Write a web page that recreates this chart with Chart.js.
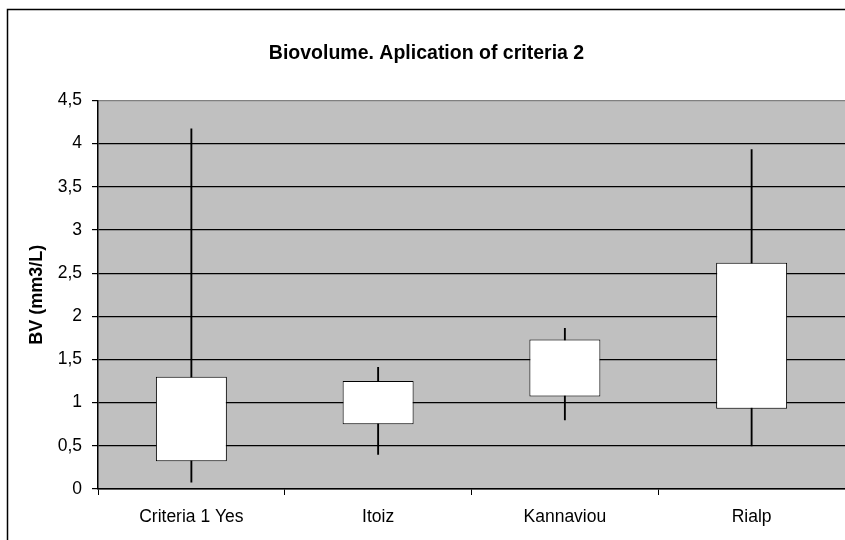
<!DOCTYPE html>
<html>
<head>
<meta charset="utf-8">
<script src="https://cdn.jsdelivr.net/npm/chart.js@4/dist/chart.umd.min.js"></script>
<style>
  body { margin: 0; background: #fff; }
  canvas { display: block; }
</style>
</head>
<body>
<canvas id="chart" width="845" height="540"></canvas>
<script>
// categorias y valores
const categories = ['Criteria 1 Yes', 'Itoiz', 'Kannaviou', 'Rialp']
const minValues = [0.08, 0.40, 0.80, 0.50]
const q1Values = [0.32, 0.75, 1.07, 0.93]
const q3Values = [1.30, 1.25, 1.73, 2.62]
const maxValues = [4.17, 1.41, 1.86, 3.93]
const yTicks = [0, 0.5, 1, 1.5, 2, 2.5, 3, 3.5, 4, 4.5]

const boxData = categories.map((c, i) => [q1Values[i], q3Values[i]])
const whiskerData = categories.map((c, i) => [minValues[i], maxValues[i]])

const fontFamily = "'Liberation Sans', Arial, sans-serif"

// fondo blanco, marco exterior y area gris
const backdrop = {
    id: 'backdrop',
    beforeDraw(chart) {
        const ctx = chart.ctx
        const a = chart.chartArea
        ctx.save()
        ctx.fillStyle = '#fff'
        ctx.fillRect(0, 0, chart.width, chart.height)
        ctx.strokeStyle = '#000'
        ctx.lineWidth = 1.5
        ctx.beginPath()
        ctx.moveTo(7.5, chart.height)
        ctx.lineTo(7.5, 9.5)
        ctx.lineTo(chart.width, 9.5)
        ctx.stroke()
        ctx.fillStyle = '#c0c0c0'
        ctx.fillRect(a.left, a.top, a.right - a.left, a.bottom - a.top)
        ctx.restore()
    }
}

new Chart(document.getElementById('chart'), {
    type: 'bar',
    data: {
        labels: categories,
        datasets: [
            {
                data: boxData,
                backgroundColor: '#fff',
                borderColor: '#000',
                borderWidth: 1,
                borderSkipped: false,
                grouped: false,
                barPercentage: 0.38,
                categoryPercentage: 1
            },
            {
                data: whiskerData,
                backgroundColor: '#000',
                borderWidth: 0,
                grouped: false,
                barThickness: 1.2
            }
        ]
    },
    options: {
        responsive: false,
        animation: false,
        layout: { padding: { left: 8, right: 0, top: 28, bottom: 0 } },
        plugins: {
            legend: { display: false },
            tooltip: { enabled: false },
            title: {
                display: true,
                text: 'Biovolume. Aplication of criteria 2',
                color: '#000',
                font: { family: fontFamily, size: 19.5, weight: 'bold' },
                padding: { top: 14, bottom: 35 }
            }
        },
        scales: {
            x: {
                offset: true,
                grid: {
                    offset: true,
                    drawOnChartArea: false,
                    drawTicks: true,
                    tickLength: 6,
                    tickColor: '#000',
                    color: '#000'
                },
                border: { color: '#000', width: 1.5 },
                ticks: {
                    color: '#000',
                    padding: 12,
                    font: { family: fontFamily, size: 17.5 }
                },
                afterFit: (scale) => { scale.height = 51 }
            },
            y: {
                min: 0,
                max: 4.5,
                afterBuildTicks: (scale) => {
                    scale.ticks = yTicks.map(v => ({ value: v }))
                },
                afterFit: (scale) => { scale.width = 90 },
                grid: {
                    color: (ctx) => ctx.tick && ctx.tick.value === 4.5 ? '#808080' : '#000',
                    lineWidth: 1.2,
                    tickLength: 6,
                    tickColor: '#000'
                },
                border: { color: '#000', width: 1.5 },
                ticks: {
                    color: '#000',
                    padding: 10,
                    font: { family: fontFamily, size: 17.5 },
                    callback: (v) => String(v).replace('.', ',')
                },
                title: {
                    display: true,
                    text: 'BV (mm3/L)',
                    color: '#000',
                    font: { family: fontFamily, size: 18, weight: 'bold' },
                    padding: { top: 18, bottom: 0 }
                }
            }
        }
    },
    plugins: [backdrop]
})
</script>
</body>
</html>
